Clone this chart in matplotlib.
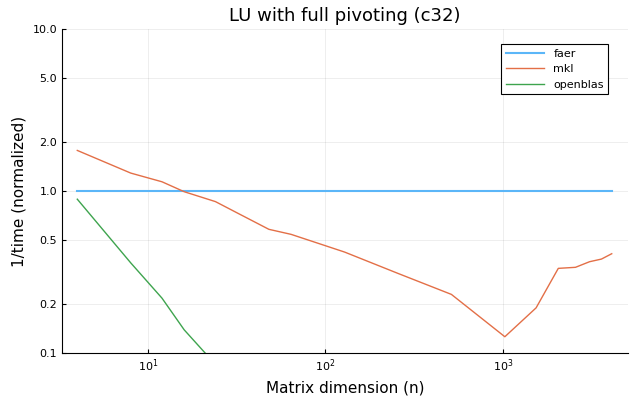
import matplotlib
matplotlib.use("Agg")
import matplotlib.pyplot as plt
from matplotlib.ticker import FixedLocator, FixedFormatter, NullLocator

n = [4, 8, 12, 16, 24, 32, 48, 64, 128, 256, 512, 1024, 1536, 2048, 2560, 3072, 3584, 4096]
faer = [1.0] * len(n)
mkl = [1.78, 1.29, 1.14, 0.99, 0.86, 0.73, 0.58, 0.54, 0.42, 0.31, 0.23, 0.126, 0.19, 0.333, 0.338, 0.366, 0.38, 0.41]
n_openblas = [4, 8, 12, 16, 24, 32]
openblas = [0.89, 0.36, 0.218, 0.139, 0.085, 0.06]

yticks = [0.1, 0.2, 0.5, 1.0, 2.0, 5.0, 10.0]

fig = plt.figure(figsize=(6.4, 4.0), dpi=100)
ax = fig.add_axes([62 / 640, 1 - 353 / 400, (628 - 62) / 640, (353 - 29) / 400])

ax.plot(n, faer, color="#5BB6F8", lw=1.5, label="faer")
ax.plot(n, mkl, color="#E36F47", lw=1.0, label="mkl")
ax.plot(n_openblas, openblas, color="#3EA44E", lw=1.0, label="openblas")

ax.set_xscale("log")
ax.set_yscale("log")
ax.set_xlim(3.28, 5058)
ax.set_ylim(0.1, 10.0)

ax.yaxis.set_major_locator(FixedLocator(yticks))
ax.yaxis.set_major_formatter(FixedFormatter([str(t) for t in yticks]))
ax.yaxis.set_minor_locator(NullLocator())
ax.xaxis.set_minor_locator(NullLocator())
ax.xaxis.set_major_locator(FixedLocator([10, 100, 1000]))

ax.grid(True, color="#000000", alpha=0.08, lw=0.6)
for s in ["top", "right"]:
    ax.spines[s].set_visible(False)
ax.tick_params(labelsize=8, direction="in", length=3)

ax.set_title("LU with full pivoting (c32)", fontsize=13)
ax.set_xlabel("Matrix dimension (n)", fontsize=11)
ax.set_ylabel("1/time (normalized)", fontsize=11)

leg = ax.legend(loc="upper right", bbox_to_anchor=(0.975, 0.97), fontsize=8, fancybox=False,
                edgecolor="black", framealpha=1, handlelength=3.5)
leg.get_frame().set_linewidth(0.8)

fig.savefig("out.png", dpi=100)
